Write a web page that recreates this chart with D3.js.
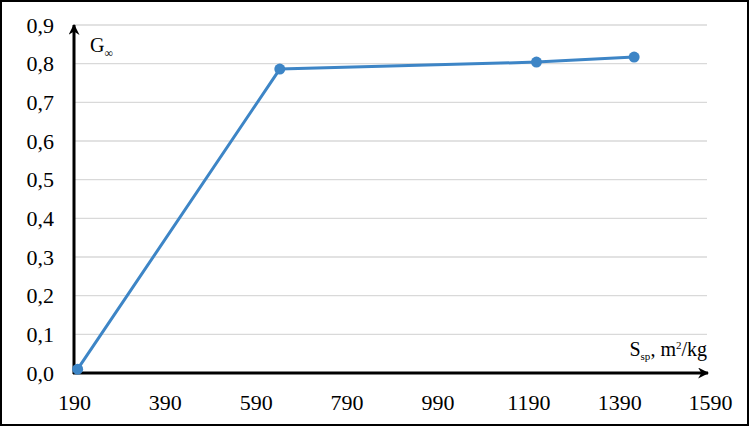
<!DOCTYPE html>
<html>
<head>
<meta charset="utf-8">
<script src="https://cdn.jsdelivr.net/npm/d3@7"></script>
<style>
  body { margin: 0; background: #fff; }
  svg { display: block; }
</style>
</head>
<body>
<div id="chart"></div>
<script>
// data
const xTicks = [190, 390, 590, 790, 990, 1190, 1390, 1590];
const yTicks = [0, 0.1, 0.2, 0.3, 0.4, 0.5, 0.6, 0.7, 0.8, 0.9];
const sSp = [198, 643, 1208, 1423];
const gInf = [0.01, 0.786, 0.804, 0.817];

const width = 749, height = 426;
const margin = { top: 25, right: 39, bottom: 53, left: 74 };
const innerW = width - margin.left - margin.right;
const innerH = height - margin.top - margin.bottom;
const serif = 'Liberation Serif';

const loc = d3.formatLocale({ decimal: ",", thousands: " ", grouping: [3], currency: ["", ""] });
const fmt = loc.format(".1f");

const svg = d3.select('#chart').append('svg')
  .attr('width', width)
  .attr('height', height)
  .attr('font-family', serif);

// outer frame
svg.append('rect')
  .attr('x', 1).attr('y', 1)
  .attr('width', width - 2).attr('height', height - 2)
  .attr('fill', '#fff')
  .attr('stroke', '#000')
  .attr('stroke-width', 2);

svg.append('defs').append('marker')
  .attr('id', 'arrow')
  .attr('viewBox', '0 0 10 10')
  .attr('refX', 9).attr('refY', 5)
  .attr('markerWidth', 11).attr('markerHeight', 11)
  .attr('markerUnits', 'userSpaceOnUse')
  .attr('orient', 'auto')
  .append('path')
  .attr('d', 'M0,0 L10,5 L0,10 L3,5 Z')
  .attr('fill', '#000');

const g = svg.append('g')
  .attr('transform', `translate(${margin.left}, ${margin.top})`);

const x = d3.scaleLinear().domain([190, 1590]).range([0, innerW]);
const y = d3.scaleLinear().domain([0, 0.9]).range([innerH, 0]);

// gridlines
g.append('g')
  .selectAll('line')
  .data(yTicks.slice(1))
  .join('line')
  .attr('x1', 0).attr('x2', innerW - 3)
  .attr('y1', d => y(d)).attr('y2', d => y(d))
  .attr('stroke', '#d9d9d9')
  .attr('stroke-width', 1.3);

// y tick labels
const yAxis = g.append('g')
  .call(d3.axisLeft(y).tickValues(yTicks).tickFormat(fmt).tickSize(0).tickPadding(20))
  .attr('font-family', serif)
  .attr('font-size', 22);
yAxis.select('.domain').remove();
yAxis.selectAll('text').attr('fill', '#000');

// x tick labels
const xAxis = g.append('g')
  .attr('transform', `translate(0, ${innerH})`)
  .call(d3.axisBottom(x).tickValues(xTicks).tickFormat(d3.format('d')).tickSize(0).tickPadding(21))
  .attr('font-family', serif)
  .attr('font-size', 22);
xAxis.select('.domain').remove();
xAxis.selectAll('text').attr('fill', '#000');

// axis arrows
g.append('line')
  .attr('x1', 0).attr('y1', innerH + 1)
  .attr('x2', 0).attr('y2', y(0.9))
  .attr('stroke', '#000').attr('stroke-width', 3)
  .attr('marker-end', 'url(#arrow)');

g.append('line')
  .attr('x1', -1).attr('y1', innerH)
  .attr('x2', innerW - 2).attr('y2', innerH)
  .attr('stroke', '#000').attr('stroke-width', 3)
  .attr('marker-end', 'url(#arrow)');

// series
const pts = sSp.map((v, i) => [v, gInf[i]]);
g.append('path')
  .datum(pts)
  .attr('fill', 'none')
  .attr('stroke', '#3d85c6')
  .attr('stroke-width', 3)
  .attr('d', d3.line().x(d => x(d[0])).y(d => y(d[1])));

g.selectAll('circle.pt')
  .data(pts)
  .join('circle')
  .attr('class', 'pt')
  .attr('cx', d => x(d[0]))
  .attr('cy', d => y(d[1]))
  .attr('r', 5.5)
  .attr('fill', '#3d85c6');

// axis titles
const gt = g.append('text')
  .attr('x', 16).attr('y', 27)
  .attr('font-size', 20)
  .attr('fill', '#000');
gt.append('tspan').text('G');
gt.append('tspan').attr('font-size', 12).attr('dy', 5).text('∞');

const st = g.append('text')
  .attr('x', innerW - 3).attr('y', innerH - 17)
  .attr('text-anchor', 'end')
  .attr('font-size', 20)
  .attr('fill', '#000');
st.append('tspan').text('S');
st.append('tspan').attr('font-size', 11).attr('dy', 4).text('sp');
st.append('tspan').attr('dy', -4).text(', m');
st.append('tspan').attr('font-size', 11).attr('dy', -7).text('2');
st.append('tspan').attr('dy', 7).text('/kg');
</script>
</body>
</html>
